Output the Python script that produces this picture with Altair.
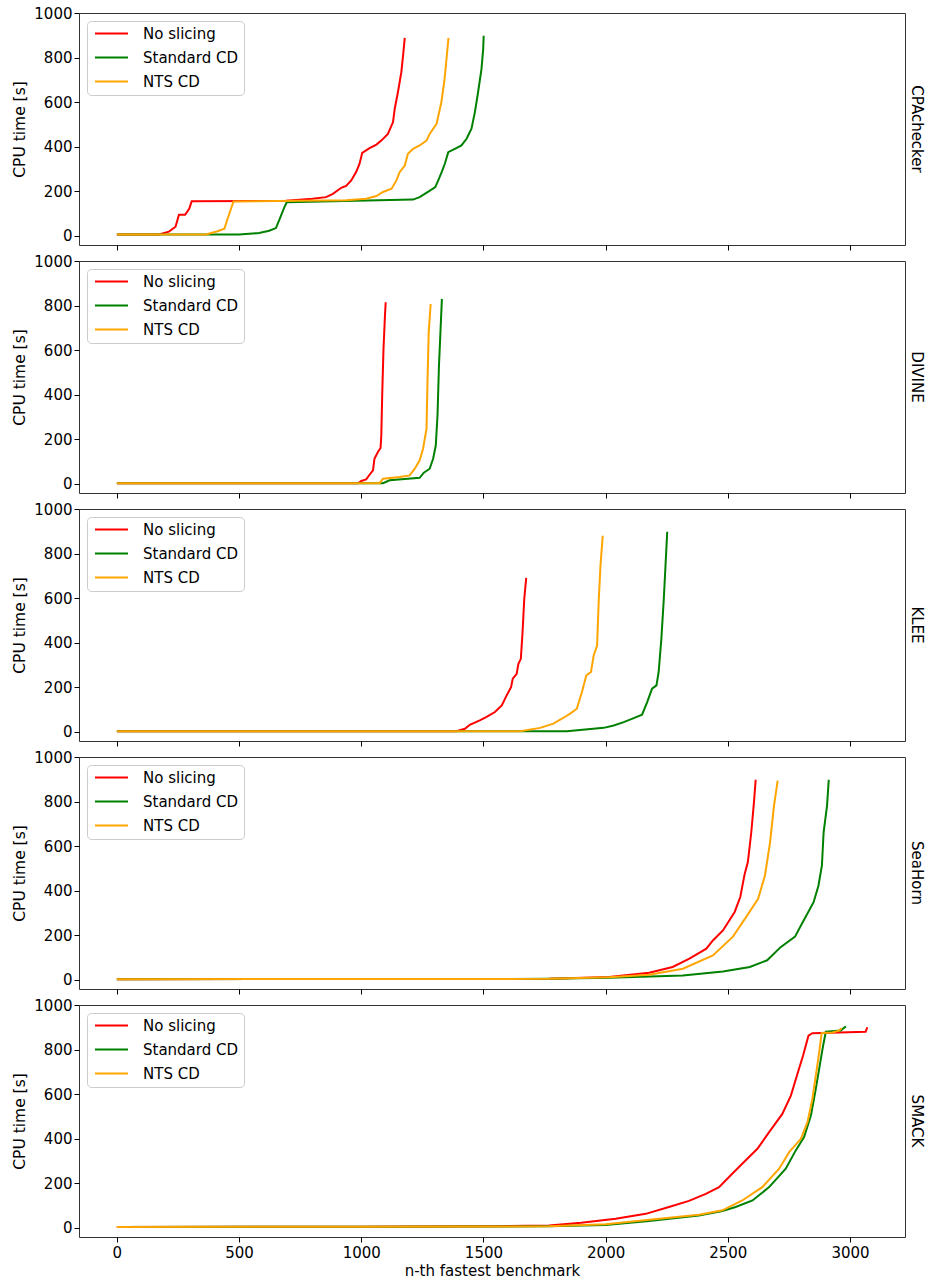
import altair as alt
import pandas as pd

FONT = "DejaVu Sans"
SERIES = ["No slicing", "Standard CD", "NTS CD"]
COLORS = ["#ff0000", "#008000", "#ffa500"]
TOOLS = ["CPAchecker", "DIVINE", "KLEE", "SeaHorn", "SMACK"]
Y_TICKS = [0, 200, 400, 600, 800, 1000]
X_TICKS = [0, 500, 1000, 1500, 2000, 2500, 3000]

# ---- CPAchecker ----
cpa_red_x = [0, 172, 213, 240, 254, 279, 296, 306, 692, 800, 856, 884, 918, 938, 959, 980, 993, 1004, 1034, 1062, 1082, 1109, 1130, 1137, 1150, 1164, 1171, 1178]
cpa_red_y = [5, 5, 18, 40, 94, 94, 121, 154, 157, 166, 173, 188, 215, 223, 248, 288, 323, 372, 393, 409, 427, 457, 510, 570, 644, 734, 808, 888]
cpa_grn_x = [0, 500, 582, 623, 651, 672, 686, 695, 1212, 1239, 1276, 1303, 1315, 1329, 1342, 1356, 1383, 1410, 1431, 1451, 1465, 1478, 1492, 1499, 1501]
cpa_grn_y = [5, 5, 12, 22, 34, 91, 129, 150, 162, 173, 199, 218, 248, 285, 323, 375, 390, 405, 435, 480, 555, 644, 749, 839, 898]
cpa_org_x = [0, 364, 412, 440, 453, 467, 477, 938, 1020, 1062, 1089, 1124, 1144, 1157, 1178, 1191, 1212, 1239, 1267, 1280, 1308, 1328, 1341, 1350, 1357]
cpa_org_y = [5, 5, 20, 31, 76, 121, 153, 159, 166, 178, 196, 211, 248, 285, 315, 368, 390, 405, 427, 457, 502, 600, 704, 808, 888]

# ---- DIVINE ----
div_red_x = [0, 987, 1000, 1020, 1034, 1048, 1054, 1068, 1079, 1082, 1086, 1091, 1097, 1100]
div_red_y = [2, 2, 12, 19, 40, 60, 112, 142, 160, 217, 411, 605, 755, 815]
div_grn_x = [0, 1089, 1116, 1239, 1256, 1280, 1294, 1305, 1312, 1318, 1324, 1330]
div_grn_y = [2, 2, 15, 26, 49, 67, 112, 172, 307, 531, 680, 830]
div_org_x = [0, 1075, 1089, 1157, 1198, 1219, 1239, 1253, 1267, 1271, 1276, 1284]
div_org_y = [2, 2, 22, 30, 37, 67, 105, 157, 247, 456, 680, 807]

# ---- KLEE ----
klee_red_x = [0, 1390, 1424, 1444, 1485, 1513, 1547, 1575, 1595, 1613, 1620, 1636, 1643, 1653, 1660, 1667, 1675]
klee_red_y = [2, 2, 13, 31, 51, 66, 88, 118, 163, 200, 238, 260, 305, 327, 447, 596, 691]
klee_grn_x = [0, 1841, 1992, 2033, 2074, 2115, 2149, 2170, 2190, 2208, 2217, 2228, 2238, 2245, 2252]
klee_grn_y = [2, 2, 17, 28, 43, 61, 76, 133, 193, 208, 268, 417, 596, 746, 898]
klee_org_x = [0, 1650, 1732, 1786, 1821, 1855, 1882, 1903, 1921, 1940, 1951, 1965, 1972, 1979, 1988]
klee_org_y = [2, 2, 17, 36, 58, 81, 103, 178, 253, 268, 342, 387, 596, 746, 880]

# ---- SeaHorn ----
sea_red_x = [0, 1500, 1768, 2014, 2178, 2274, 2343, 2412, 2439, 2480, 2528, 2551, 2569, 2582, 2596, 2607, 2614]
sea_red_y = [2, 3, 4, 12, 31, 57, 94, 139, 176, 221, 304, 371, 475, 528, 662, 797, 898]
sea_grn_x = [0, 1500, 1768, 2014, 2316, 2480, 2590, 2661, 2716, 2775, 2803, 2851, 2871, 2885, 2892, 2906, 2913]
sea_grn_y = [2, 3, 4, 8, 19, 37, 57, 87, 146, 193, 251, 348, 423, 513, 662, 782, 898]
sea_org_x = [0, 1500, 1768, 2014, 2178, 2316, 2439, 2521, 2576, 2624, 2652, 2673, 2689, 2704]
sea_org_y = [2, 3, 4, 11, 22, 49, 109, 193, 283, 363, 468, 618, 782, 894]

# ---- SMACK ----
smk_red_x = [0, 1000, 1500, 1768, 1900, 2041, 2164, 2259, 2341, 2410, 2464, 2512, 2559, 2621, 2669, 2723, 2758, 2785, 2808, 2830, 2846, 3064, 3071]
smk_red_y = [3, 4, 6, 10, 22, 40, 62, 93, 120, 152, 182, 235, 287, 354, 429, 511, 593, 691, 773, 862, 873, 880, 900]
smk_grn_x = [0, 1000, 1500, 1768, 2000, 2178, 2382, 2478, 2532, 2601, 2669, 2737, 2778, 2812, 2840, 2860, 2876, 2890, 2901, 2962, 2983]
smk_grn_y = [3, 4, 5, 6, 12, 30, 55, 75, 93, 122, 182, 265, 347, 407, 504, 623, 728, 818, 880, 885, 904]
smk_org_x = [0, 1000, 1500, 1768, 2000, 2178, 2382, 2478, 2559, 2641, 2710, 2751, 2799, 2826, 2846, 2860, 2874, 2884, 2928, 2955, 2966]
smk_org_y = [3, 4, 5, 6, 15, 36, 58, 78, 122, 182, 265, 339, 399, 474, 578, 683, 788, 874, 877, 885, 896]

PANELS = {
    "CPAchecker": [(cpa_red_x, cpa_red_y), (cpa_grn_x, cpa_grn_y), (cpa_org_x, cpa_org_y)],
    "DIVINE": [(div_red_x, div_red_y), (div_grn_x, div_grn_y), (div_org_x, div_org_y)],
    "KLEE": [(klee_red_x, klee_red_y), (klee_grn_x, klee_grn_y), (klee_org_x, klee_org_y)],
    "SeaHorn": [(sea_red_x, sea_red_y), (sea_grn_x, sea_grn_y), (sea_org_x, sea_org_y)],
    "SMACK": [(smk_red_x, smk_red_y), (smk_grn_x, smk_grn_y), (smk_org_x, smk_org_y)],
}


def panel_df(tool):
    rows = []
    for s_i, (xs, ys) in enumerate(PANELS[tool]):
        for i, (xv, yv) in enumerate(zip(xs, ys)):
            rows.append({"x": xv, "y": yv, "series": SERIES[s_i], "sidx": s_i, "i": i})
    return pd.DataFrame(rows)


charts = []
for k, tool in enumerate(TOOLS):
    last = k == len(TOOLS) - 1
    x_axis = alt.Axis(
        values=X_TICKS, format="d",
        labels=last,
        title="n-th fastest benchmark" if last else None,
        grid=False, domain=False, tickSize=5, tickColor="black",
        labelFontSize=15, labelFont=FONT, labelColor="black", labelPadding=3,
        labelFlush=False, labelOverlap=False,
        titleFontSize=15, titleFont=FONT, titleFontWeight="normal", titleColor="black",
        titlePadding=3,
    )
    y_axis = alt.Axis(
        values=Y_TICKS, format="d", title="CPU time [s]", grid=False, domain=False,
        tickSize=5, tickColor="black",
        labelFontSize=15, labelFont=FONT, labelColor="black", labelPadding=2,
        labelFlush=False, labelOverlap=False,
        titleFontSize=15.5, titleFont=FONT, titleFontWeight="normal", titleColor="black",
        titlePadding=6,
    )
    legend = alt.Legend(
        title=None, orient="top-left", offset=8,
        symbolType="M-3.3,0L3.3,0", symbolSize=100, symbolStrokeWidth=2,
        symbolOffset=12,
        labelFontSize=15, labelFont=FONT, labelColor="black", labelOffset=24,
        strokeColor="#cccccc", fillColor="white",
        padding=5, cornerRadius=4, rowPadding=8,
    )
    c = (
        alt.Chart(panel_df(tool))
        .mark_line(strokeWidth=2, clip=True)
        .encode(
            x=alt.X("x:Q", scale=alt.Scale(domain=[-155, 3225], nice=False, zero=False), axis=x_axis),
            y=alt.Y("y:Q", scale=alt.Scale(domain=[-42, 1000], nice=False, zero=False), axis=y_axis),
            color=alt.Color("series:N", scale=alt.Scale(domain=SERIES, range=COLORS), legend=legend),
            detail="sidx:O",
            order="i:Q",
        )
        .properties(
            width=826, height=232,
            title=alt.TitleParams(text=tool, orient="right", anchor="middle", angle=90,
                                  fontSize=15, font=FONT, fontWeight="normal", color="black", offset=4),
        )
    )
    charts.append(c)

chart = (
    alt.vconcat(*charts, spacing=2)
    .resolve_legend(color="independent")
    .configure_view(stroke="#333333", strokeWidth=1)
    .properties(padding={"left": 12, "top": 5, "right": 5, "bottom": 5}, background="white")
)

chart.save("out.html", embed_options={"renderer": "svg", "actions": False})
